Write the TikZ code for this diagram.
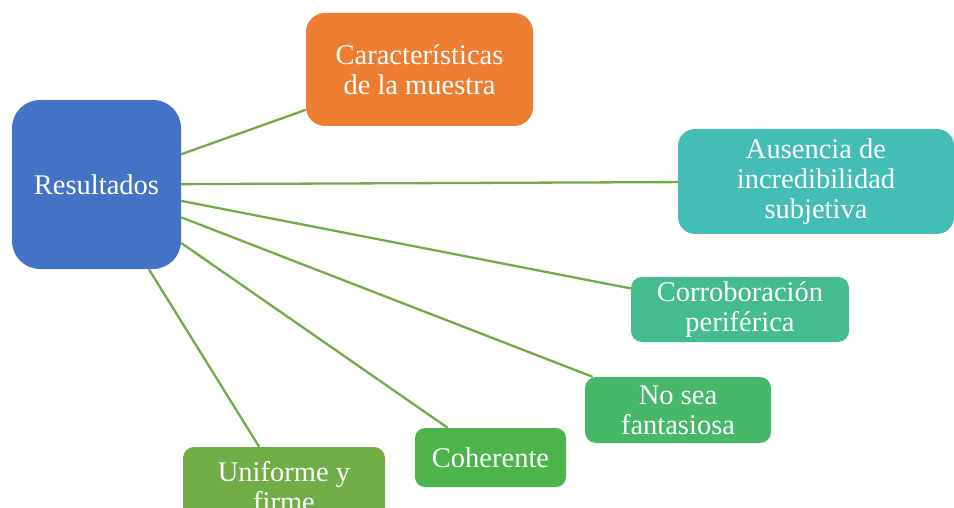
\documentclass[tikz,border=0pt]{standalone}
\usepackage{fontspec}
\setmainfont{Liberation Serif}
\definecolor{resblue}{HTML}{4472C4}
\definecolor{muestraorange}{HTML}{ED7D31}
\definecolor{austeal}{HTML}{45BDB7}
\definecolor{corrobgreen}{HTML}{44BC8F}
\definecolor{fantgreen}{HTML}{47B76A}
\definecolor{cohergreen}{HTML}{4DB34B}
\definecolor{uniggreen}{HTML}{70AD47}
\definecolor{linkgreen}{HTML}{70AD47}

\begin{document}
\begin{tikzpicture}[x=1pt,y=-1pt,
    box/.style={text=white,align=center,inner sep=0pt,
      font=\fontsize{28.5}{30}\selectfont},
    link/.style={draw=linkgreen,line width=2.3pt}]
                \useasboundingbox (0,0) rectangle (954,508);
                \clip (0,0) rectangle (954,508);
                \node[box,fill=resblue,rounded corners=28pt,minimum width=169pt,minimum height=169pt] (res) at (96.5,184.5) {Resultados};
                \node[box,fill=muestraorange,rounded corners=19pt,minimum width=227pt,minimum height=113pt] (muestra) at (419.5,69.5) {Características\\de la muestra};
                \node[box,fill=austeal,rounded corners=17pt,minimum width=276pt,minimum height=105pt] (ausencia) at (816,181.5) {Ausencia de\\incredibilidad\\subjetiva};
                \node[box,fill=corrobgreen,rounded corners=11pt,minimum width=218pt,minimum height=65pt] (corrob) at (740,309.5) {Corroboración\\periférica};
                \node[box,fill=fantgreen,rounded corners=11pt,minimum width=186pt,minimum height=66pt] (fantasiosa) at (678,410) {No sea\\fantasiosa};
                \node[box,fill=cohergreen,rounded corners=10pt,minimum width=151pt,minimum height=59pt] (coherente) at (490.5,457.5) {Coherente};
                \node[box,fill=uniggreen,rounded corners=11pt,minimum width=202pt,minimum height=80pt] (uniforme) at (284,487) {Uniforme y\\firme};
                \draw[link] (res) -- (muestra);
                \draw[link] (res) -- (ausencia);
                \draw[link] (res) -- (corrob);
                \draw[link] (res) -- (fantasiosa);
                \draw[link] (res) -- (coherente);
                \draw[link] (res) -- (uniforme);
            \end{tikzpicture}
\end{document}
